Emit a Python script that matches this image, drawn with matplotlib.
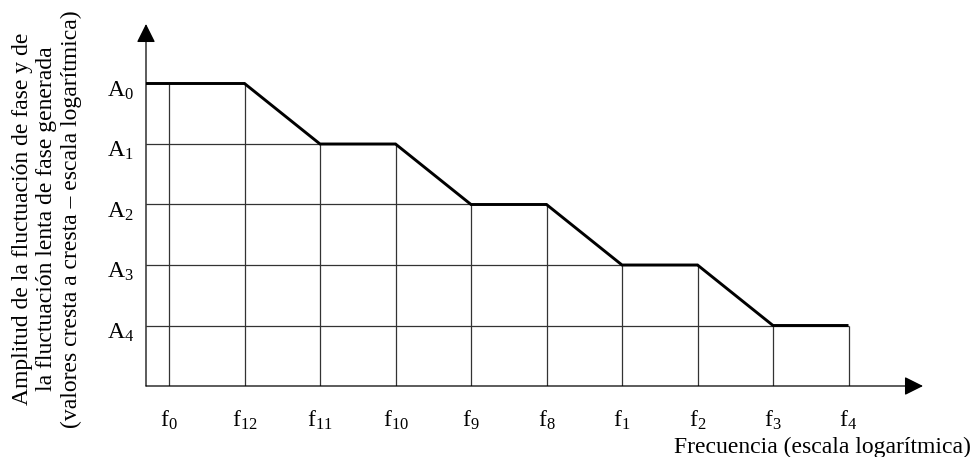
import matplotlib
matplotlib.use('Agg')
import matplotlib.pyplot as plt
from matplotlib.transforms import offset_copy

plt.rcParams['font.family'] = ['Liberation Serif', 'DejaVu Serif']
plt.rcParams['mathtext.fontset'] = 'custom'
plt.rcParams['mathtext.rm'] = 'Liberation Serif'
plt.rcParams['mathtext.it'] = 'Liberation Serif:italic'

# ---- data ----
freq_subs = ['0', '12', '11', '10', '9', '8', '1', '2', '3', '4']
amp_subs = ['0', '1', '2', '3', '4']
amp_levels = [5, 4, 3, 2, 1]                      # A0 .. A4 (log scale steps)
curve_levels = [5, 5, 4, 4, 3, 3, 2, 2, 1, 1]     # amplitude at each frequency breakpoint
x_title = 'Frecuencia (escala logarítmica)'
y_title = ('Amplitud de la fluctuación de fase y de\n'
           'la fluctuación lenta de fase generada\n'
           '(valores cresta a cresta – escala logarítmica)')

FS = 17
W, H = 975, 457
fig = plt.figure(figsize=(W / 100, H / 100), dpi=100)
ax = fig.add_axes([146 / W, (H - 386) / H, (923 - 146) / W, (386 - 24) / H])
x0 = -23 / 75.5
x1 = (923 - 169) / 75.5
y1 = (386 - 24) / 60.5
ax.set_xlim(x0, x1)
ax.set_ylim(0, y1)
ax.axis('off')

xs = list(range(len(freq_subs)))
grid_kw = dict(color='#333333', lw=0.9, solid_capstyle='butt')

# vertical grid lines up to the curve
for x, lv in zip(xs, curve_levels):
    ax.plot([x, x], [0, lv], **grid_kw)
# horizontal grid lines from the axis to the end of each plateau
for lv in amp_levels:
    xe = max(x for x, c in zip(xs, curve_levels) if c == lv)
    ax.plot([x0, xe], [lv, lv], **grid_kw)

# the mask curve
ax.plot([x0] + xs, [curve_levels[0]] + curve_levels, color='black', lw=2.1,
        solid_joinstyle='miter', solid_capstyle='butt', zorder=5)

# axes with arrows
arrow_kw = dict(arrowstyle='-|>,head_length=0.8,head_width=0.4', color='black',
                lw=0.9, shrinkA=0, shrinkB=0, mutation_scale=14.4)
ax.annotate('', xy=(x1, 0), xytext=(x0, 0), arrowprops=arrow_kw, annotation_clip=False)
ax.annotate('', xy=(x0, y1), xytext=(x0, 0), arrowprops=arrow_kw, annotation_clip=False)

# amplitude labels
tr_a = offset_copy(ax.transData, fig=fig, x=-12, y=-13, units='dots')
for s, lv in zip(amp_subs, amp_levels):
    ax.text(x0, lv, r'$\mathrm{A}_{%s}$' % s, transform=tr_a, ha='right',
            va='baseline', fontsize=FS, clip_on=False)

# frequency labels
tr_f = offset_copy(ax.transData, fig=fig, x=0, y=-41, units='dots')
for s, x in zip(freq_subs, xs):
    ax.text(x, 0, r'$\mathrm{f}_{%s}$' % s, transform=tr_f, ha='center',
            va='baseline', fontsize=FS, clip_on=False)

fig.text(971 / W, 1 - 453 / H, x_title, ha='right', va='baseline', fontsize=FS)
fig.text(47 / W, 1 - 219 / H, y_title, rotation=90, ha='center', va='center',
         multialignment='center', linespacing=1.22, fontsize=FS)

fig.savefig('out.png', dpi=100)
